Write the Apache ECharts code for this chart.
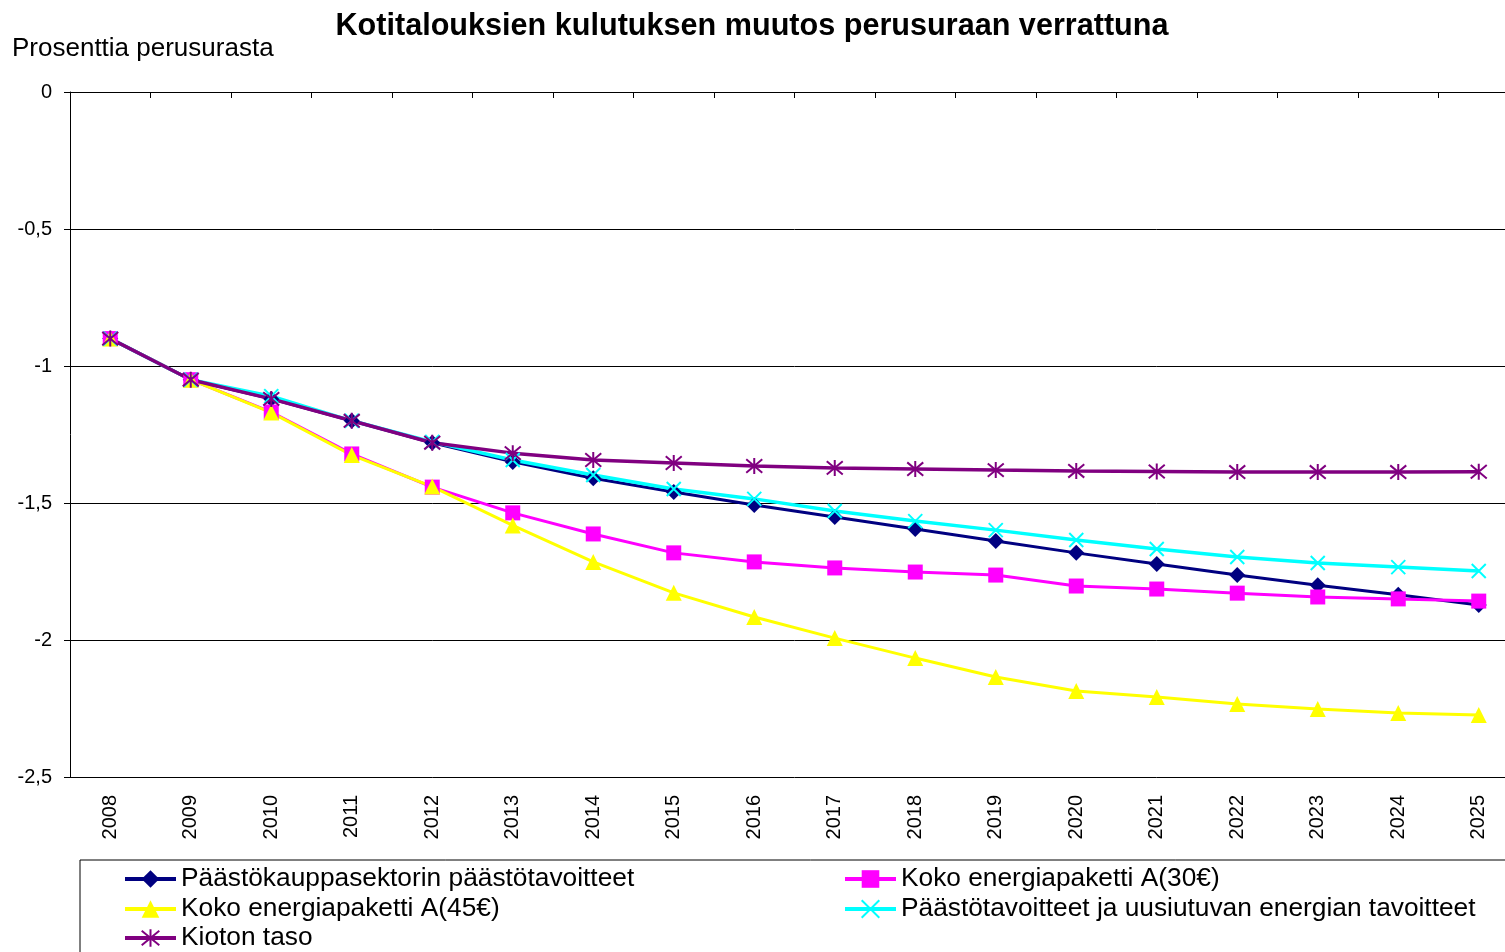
<!DOCTYPE html>
<html><head><meta charset="utf-8">
<script src="https://cdn.jsdelivr.net/npm/echarts@6/dist/echarts.min.js"></script>
<style>html,body{margin:0;padding:0;background:#fff;overflow:hidden}#c{width:1540px;height:952px}</style>
</head><body><div id="c"></div>
<script>
const years = ['2008','2009','2010','2011','2012','2013','2014','2015','2016','2017','2018','2019','2020','2021','2022','2023','2024','2025'];
const yTicks = [0, -0.5, -1, -1.5, -2, -2.5];
const names = ['Päästökauppasektorin päästötavoitteet','Koko energiapaketti A(30€)','Koko energiapaketti A(45€)','Päästötavoitteet ja uusiutuvan energian tavoitteet','Kioton taso'];
const paastokauppa = [-0.9,-1.05,-1.12,-1.2,-1.28,-1.35,-1.41,-1.46,-1.507,-1.551,-1.595,-1.639,-1.682,-1.723,-1.763,-1.8,-1.835,-1.872];
const koko30 = [-0.9,-1.05,-1.168,-1.321,-1.442,-1.536,-1.613,-1.682,-1.715,-1.737,-1.752,-1.763,-1.803,-1.814,-1.829,-1.843,-1.85,-1.858];
const koko45 = [-0.9,-1.05,-1.17,-1.325,-1.44,-1.582,-1.715,-1.828,-1.916,-1.993,-2.066,-2.135,-2.186,-2.208,-2.234,-2.252,-2.266,-2.274];
const uusiutuva = [-0.9,-1.05,-1.11,-1.2,-1.277,-1.343,-1.398,-1.449,-1.485,-1.529,-1.566,-1.599,-1.635,-1.668,-1.697,-1.719,-1.734,-1.748];
const kioto = [-0.9,-1.05,-1.12,-1.2,-1.28,-1.318,-1.343,-1.354,-1.365,-1.372,-1.376,-1.38,-1.383,-1.385,-1.387,-1.387,-1.387,-1.386];

const FONT = 'Liberation Sans, Arial, sans-serif';
const chart = echarts.init(document.getElementById('c'));
const crossPath = 'path://M0,0L10,10M10,0L0,10';
const starPath = 'path://M0,0L10,10M10,0L0,10M5,-1L5,11';
function ser(name, data, color, symbol, size, stroke, lw) {
  return {
    name, type: 'line', data, xAxisIndex: 0, yAxisIndex: 0,
    symbol, symbolSize: size, showSymbol: true,
    lineStyle: { color, width: lw },
    itemStyle: stroke ? { color: 'rgba(0,0,0,0)', borderColor: color, borderWidth: 2 } : { color, borderWidth: 0 },
    emphasis: { disabled: true }, animation: false
  };
}
function leg(name, left, top) {
  return {
    data: [name], left, top, padding: 0, itemWidth: 51, itemHeight: 22, itemGap: 0,
    lineStyle: { width: 4 },
    textStyle: { fontFamily: FONT, fontSize: 26.3, color: '#000', lineHeight: 26 },
    selectedMode: false
  };
}
chart.setOption({
  backgroundColor: '#fff',
  animation: false,
  title: { text: 'Kotitalouksien kulutuksen muutos perusuraan verrattuna', left: 747, textAlign: 'center', top: 6,
    textStyle: { fontFamily: FONT, fontSize: 30.6, fontWeight: 'bold', color: '#000' } },
  graphic: [
    { type: 'text', left: 12, top: 36, style: { text: 'Prosenttia perusurasta', font: '26px ' + FONT, fill: '#000' } },
    { type: 'rect', shape: { x: 80, y: 860, width: 1500, height: 200 }, style: { fill: 'none', stroke: '#000', lineWidth: 1 }, z: 0 }
  ],
  grid: { left: 70, top: 92, width: 1449, height: 685, containLabel: false },
  xAxis: [
    { type: 'category', data: years, position: 'bottom', boundaryGap: true,
      axisLine: { show: true, lineStyle: { color: '#000', width: 1 } },
      axisTick: { show: false },
      axisLabel: { rotate: 90, fontFamily: FONT, fontSize: 20, color: '#000', margin: 18, interval: 0 } },
    { type: 'category', data: years, position: 'top', boundaryGap: true,
      axisLine: { show: true, lineStyle: { color: '#000', width: 1 } },
      axisTick: { show: true, inside: true, length: 6, interval: 0, lineStyle: { color: '#000' } },
      axisLabel: { show: false } }
  ],
  yAxis: { type: 'value', min: -2.5, max: 0, interval: 0.5,
    axisLine: { show: true, lineStyle: { color: '#000', width: 1 } },
    axisTick: { show: true, length: 6, lineStyle: { color: '#000' } },
    splitLine: { show: true, lineStyle: { color: '#000', width: 1 } },
    axisLabel: { fontFamily: FONT, fontSize: 20, color: '#000', margin: 18,
      formatter: v => String(Math.round(v * 10) / 10).replace('.', ',') } },
  legend: [
    leg(names[0], 123, 866), leg(names[1], 843, 866), leg(names[2], 123, 896),
    leg(names[3], 843, 896), leg(names[4], 123, 925)
  ],
  series: [
    ser(names[0], paastokauppa, '#000080', 'diamond', 16, false, 3),
    ser(names[1], koko30, '#FF00FF', 'rect', 15, false, 3),
    ser(names[2], koko45, '#FFFF00', 'triangle', 16, false, 3),
    ser(names[3], uusiutuva, '#00FFFF', crossPath, 14, true, 3.5),
    ser(names[4], kioto, '#800080', starPath, 16, true, 3.5)
  ]
});
</script></body></html>
